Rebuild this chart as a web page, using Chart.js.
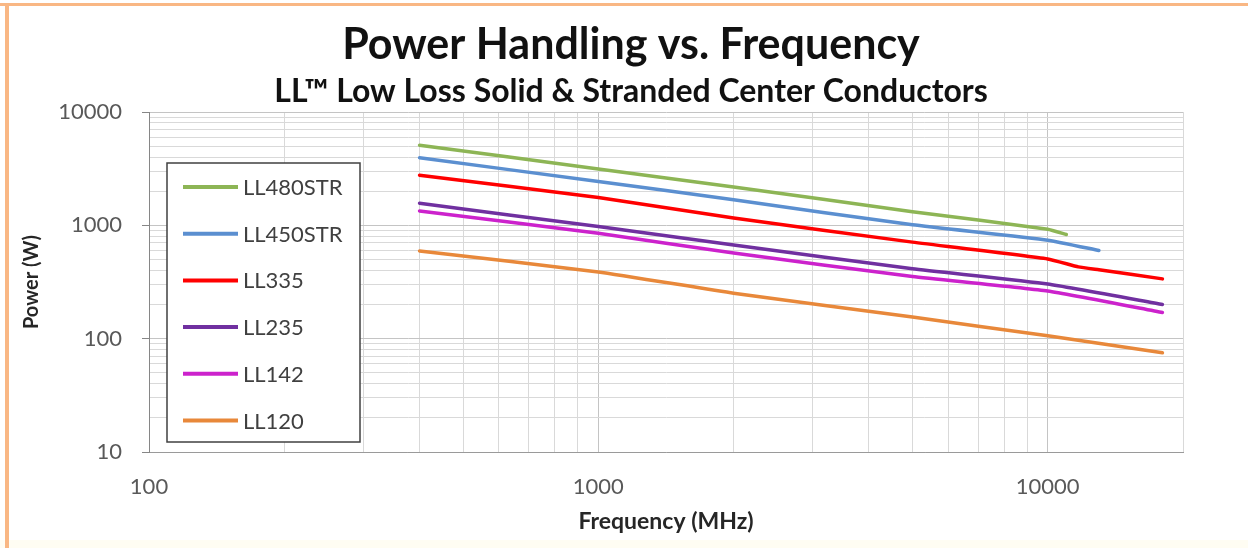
<!DOCTYPE html>
<html>
<head>
<meta charset="utf-8">
<script src="https://cdn.jsdelivr.net/npm/chart.js@4.4.1/dist/chart.umd.min.js"></script>
<style>
  body { margin: 0; background: #fff; }
  #wrap { width: 1248px; height: 548px; }
</style>
</head>
<body>
<div id="wrap"><canvas id="myChart" width="1248" height="548"></canvas></div>
<script>
// series data (frequency in MHz, power in W)
const seriesNames = ['LL480STR', 'LL450STR', 'LL335', 'LL235', 'LL142', 'LL120'];

const ll480strFreq = [400, 1000, 2000, 5000, 10000, 11000];
const ll480strPower = [5100, 3140, 2180, 1320, 925, 830];

const ll450strFreq = [400, 1000, 2000, 5000, 10000, 13000];
const ll450strPower = [3940, 2440, 1680, 1010, 740, 600];

const ll335Freq = [400, 1000, 2000, 5000, 10000, 11700, 13000, 18000];
const ll335Power = [2770, 1760, 1160, 711, 505, 430, 405, 337];

const ll235Freq = [400, 1000, 2000, 5000, 10000, 18000];
const ll235Power = [1565, 975, 670, 413, 303, 200];

const ll142Freq = [400, 1000, 2000, 5000, 10000, 18000];
const ll142Power = [1340, 850, 569, 354, 263, 170];

const ll120Freq = [400, 1000, 2000, 5000, 10000, 18000];
const ll120Power = [593, 388, 252, 155, 106, 75];

// axis ticks (grid lines) and the labels shown on them
const xTickValues = [100, 200, 300, 400, 500, 600, 700, 800, 900,
  1000, 2000, 3000, 4000, 5000, 6000, 7000, 8000, 9000, 10000, 20000];
const xTickLabels = ['100', '1000', '10000'];
const yTickValues = [10, 20, 30, 40, 50, 60, 70, 80, 90,
  100, 200, 300, 400, 500, 600, 700, 800, 900,
  1000, 2000, 3000, 4000, 5000, 6000, 7000, 8000, 9000, 10000];
const yTickLabels = ['10', '100', '1000', '10000'];

const seriesColors = ['#8db555', '#5b8fd0', '#ff0000', '#7030a0', '#cc22cc', '#e8883a'];

function toPoints(freq, power) {
  return freq.map((f, i) => ({ x: f, y: power[i] }));
}

const allSeries = [
  toPoints(ll480strFreq, ll480strPower),
  toPoints(ll450strFreq, ll450strPower),
  toPoints(ll335Freq, ll335Power),
  toPoints(ll235Freq, ll235Power),
  toPoints(ll142Freq, ll142Power),
  toPoints(ll120Freq, ll120Power)
];

// white page with the orange frame on top and left
const pageFrame = {
  id: 'pageFrame',
  beforeDraw(chart) {
    const ctx = chart.ctx;
    ctx.save();
    ctx.fillStyle = '#ffffff';
    ctx.fillRect(0, 0, chart.width, chart.height);
    ctx.fillStyle = '#fffdf3';
    ctx.fillRect(0, chart.height - 8, chart.width, 8);
    ctx.fillStyle = '#f9b784';
    ctx.fillRect(0, 3, chart.width, 3);
    ctx.fillRect(5, 3, 4, chart.height - 3);
    ctx.restore();
  }
};

// boxed legend inside the plot, like the Excel original
const legendBox = {
  id: 'legendBox',
  afterDraw(chart) {
    const { ctx, chartArea: a } = chart;
    const x0 = a.left + 18, y0 = a.top + 51, w = 193, h = 279;
    ctx.save();
    ctx.fillStyle = '#ffffff';
    ctx.fillRect(x0, y0, w, h);
    ctx.strokeStyle = '#404040';
    ctx.lineWidth = 1.5;
    ctx.strokeRect(x0, y0, w, h);
    ctx.font = '22px Lato';
    ctx.textBaseline = 'middle';
    chart.data.datasets.forEach((ds, i) => {
      const y = y0 + 24 + i * 46.7;
      ctx.strokeStyle = ds.borderColor;
      ctx.lineWidth = 4;
      ctx.beginPath();
      ctx.moveTo(x0 + 16, y);
      ctx.lineTo(x0 + 71, y);
      ctx.stroke();
      ctx.fillStyle = '#404040';
      ctx.fillText(ds.label, x0 + 76, y + 1);
    });
    ctx.restore();
  }
};

const isDecade = v => Math.abs(Math.log10(v) - Math.round(Math.log10(v))) < 1e-9;

const ctx = document.getElementById('myChart').getContext('2d');
const myChart = new Chart(ctx, {
  type: 'line',
  data: {
    datasets: allSeries.map((pts, i) => ({
      label: seriesNames[i],
      data: pts,
      borderColor: seriesColors[i],
      backgroundColor: seriesColors[i],
      borderWidth: 3.5,
      pointRadius: 0,
      tension: 0.15,
      borderJoinStyle: 'round',
      borderCapStyle: 'round',
      fill: false
    }))
  },
  options: {
    responsive: false,
    animation: false,
    layout: { padding: { left: 14, right: 0, top: 0, bottom: 0 } },
    plugins: {
      legend: { display: false },
      tooltip: { enabled: false },
      title: {
        display: true,
        text: 'Power Handling vs. Frequency',
        color: '#111111',
        font: { family: 'Lato', size: 43, weight: 'bold' },
        padding: { top: 19.2, bottom: 1 }
      },
      subtitle: {
        display: true,
        text: 'LL™ Low Loss Solid & Stranded Center Conductors',
        color: '#111111',
        font: { family: 'Lato', size: 32, weight: 'bold' },
        padding: { top: 1, bottom: 0.8 }
      }
    },
    scales: {
      x: {
        type: 'logarithmic',
        min: 100,
        max: 20000,
        afterBuildTicks: s => { s.ticks = xTickValues.map(v => ({ value: v })); },
        afterFit: s => { s.height = 96; },
        ticks: {
          autoSkip: false,
          maxRotation: 0,
          padding: 22,
          color: '#595959',
          font: { family: 'Lato', size: 22 },
          callback: v => xTickLabels.includes(String(v)) ? String(v) : ''
        },
        grid: {
          color: c => (c.tick && isDecade(c.tick.value)) ? '#c4c4c4' : '#d9d9d9',
          lineWidth: 1,
          drawTicks: false
        },
        border: { color: '#9a9a9a', width: 1 },
        title: {
          display: true,
          text: 'Frequency (MHz)',
          color: '#262626',
          font: { family: 'Lato', size: 23, weight: 'bold' },
          padding: { top: 0, bottom: 12.5 }
        }
      },
      y: {
        type: 'logarithmic',
        min: 10,
        max: 10000,
        afterBuildTicks: s => { s.ticks = yTickValues.map(v => ({ value: v })); },
        afterFit: s => { s.width = 135; },
        ticks: {
          autoSkip: false,
          padding: 20,
          color: '#595959',
          font: { family: 'Lato', size: 22 },
          callback: v => yTickLabels.includes(String(v)) ? String(v) : ''
        },
        grid: {
          color: c => (c.tick && isDecade(c.tick.value)) ? '#c4c4c4' : '#d9d9d9',
          lineWidth: 1,
          tickLength: 7,
          tickColor: c => (c.tick && isDecade(c.tick.value)) ? '#868686' : 'rgba(0,0,0,0)'
        },
        border: { color: '#868686', width: 1 },
        title: {
          display: true,
          text: 'Power (W)',
          color: '#262626',
          font: { family: 'Lato', size: 20, weight: 'bold' },
          padding: { top: 6, bottom: 0 }
        }
      },
      yRight: {
        type: 'linear',
        position: 'right',
        display: true,
        grid: { display: false },
        border: { display: false },
        ticks: { display: false },
        afterFit: s => { s.width = 65; }
      }
    }
  },
  plugins: [pageFrame, legendBox]
});
</script>
</body>
</html>
